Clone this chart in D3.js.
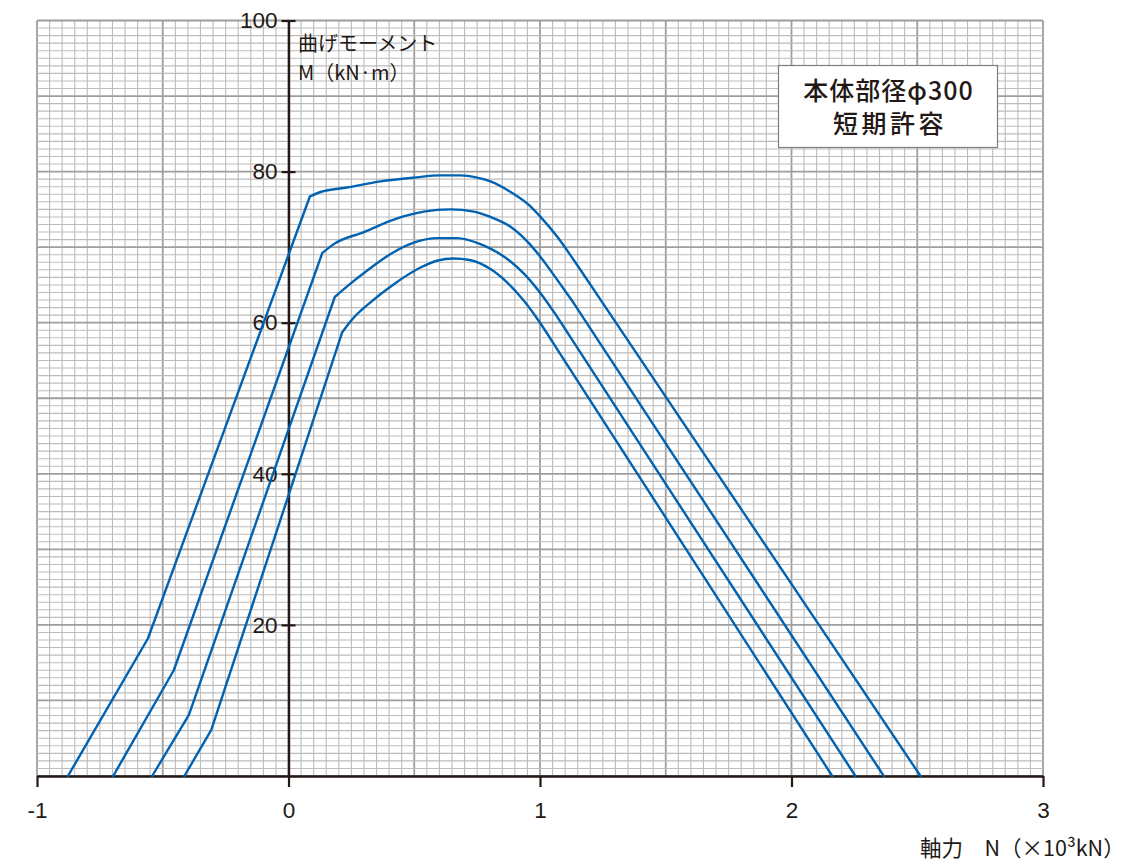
<!DOCTYPE html>
<html lang="ja">
<head>
<meta charset="utf-8">
<script src="https://cdn.jsdelivr.net/npm/d3@7"></script>
<style>
  html, body { margin: 0; padding: 0; background: #ffffff; }
  svg { display: block; }
</style>
</head>
<body>
<svg id="chart" width="1144" height="864"></svg>
<script>
// Axial force N (×10^3 kN) vs. bending moment M (kN·m), four interaction curves.
// Each curve is a list of [N, M] points; the kink lists mark points where the
// curve has a corner (pieces between kinks are drawn smooth).
const seriesA = [
  [-0.877, 0], [-0.559, 18.2], [0.085, 76.7], [0.127, 77.3], [0.233, 77.9],
  [0.366, 78.7], [0.498, 79.2], [0.604, 79.5], [0.684, 79.5], [0.750, 79.2],
  [0.803, 78.7], [0.883, 77.3], [0.962, 75.4], [1.002, 74.0], [1.068, 71.4],
  [1.134, 68.3], [1.201, 65.0], [2.513, 0]
];
const kinksA = [1, 2, 16];

const seriesB = [
  [-0.697, 0], [-0.456, 14.0], [0.134, 69.2], [0.180, 70.4], [0.300, 72.0],
  [0.432, 73.8], [0.538, 74.7], [0.644, 75.0], [0.737, 74.7], [0.803, 74.0],
  [0.883, 72.7], [0.962, 70.3], [1.002, 68.7], [1.068, 65.7], [1.134, 62.6],
  [2.367, 0]
];
const kinksB = [1, 2, 14];

const seriesC = [
  [-0.542, 0], [-0.396, 8.1], [0.184, 63.4], [0.233, 64.8], [0.313, 66.9],
  [0.406, 69.1], [0.498, 70.6], [0.591, 71.2], [0.671, 71.2], [0.763, 70.4],
  [0.803, 69.8], [0.883, 68.1], [0.936, 66.5], [1.002, 63.9], [1.068, 60.8],
  [2.254, 0]
];
const kinksC = [1, 2, 14];

const seriesD = [
  [-0.414, 0], [-0.307, 6.1], [0.213, 58.7], [0.247, 60.2], [0.326, 62.7],
  [0.419, 65.1], [0.525, 67.3], [0.590, 68.2], [0.657, 68.5], [0.720, 68.3],
  [0.803, 67.1], [0.870, 65.3], [0.936, 62.9], [1.002, 59.9], [1.068, 56.5],
  [2.162, 0]
];
const kinksD = [1, 2, 14];

const xTicks = [-1, 0, 1, 2, 3];
const yTicks = [20, 40, 60, 80, 100];
const titleLines = ["本体部径φ300", "短期許容"];
const yLabelLines = ["曲げモーメント", "M（kN·m）"];
const xLabel = "軸力　N（×10³kN）";

// ---- layout ----
const svg = d3.select("#chart");
const ink = "#231815";
const curveColor = "#0062b1";
const latin = "'Liberation Sans', Arial, Helvetica, sans-serif";
const cjk = "'Noto Sans CJK JP', 'Noto Sans', sans-serif";

const x = d3.scaleLinear().domain([-1, 3]).range([37, 1043]);
const y = d3.scaleLinear().domain([0, 100]).range([776, 20.5]);

// ---- graph-paper grid ----
const grid = svg.append("g").attr("class", "grid");
const vSteps = d3.range(0, 81);   // every 0.05 in N
const hSteps = d3.range(0, 101);  // every 1 in M

grid.selectAll("line.v")
  .data(vSteps)
  .join("line")
  .attr("class", "v")
  .attr("x1", i => x(-1 + i * 0.05)).attr("x2", i => x(-1 + i * 0.05))
  .attr("y1", y(0)).attr("y2", y(100))
  .attr("stroke", i => i % 10 === 0 ? "#9e9e9e" : "#bcbcbc")
  .attr("stroke-width", i => i % 10 === 0 ? 1.8 : 1.1);

grid.selectAll("line.h")
  .data(hSteps)
  .join("line")
  .attr("class", "h")
  .attr("x1", x(-1)).attr("x2", x(3))
  .attr("y1", i => y(i)).attr("y2", i => y(i))
  .attr("stroke", i => i % 10 === 0 ? "#9e9e9e" : "#bcbcbc")
  .attr("stroke-width", i => i % 10 === 0 ? 1.8 : 1.1);

// ---- axes ----
const xAxis = svg.append("g")
  .attr("transform", `translate(0,${y(0)})`)
  .call(d3.axisBottom(x).tickValues(xTicks).tickSize(11).tickSizeOuter(0)
    .tickPadding(15).tickFormat(d => String(d)));
xAxis.select(".domain").attr("stroke", ink).attr("stroke-width", 2.4);
xAxis.selectAll(".tick line").attr("stroke", ink).attr("stroke-width", 2.2);
xAxis.selectAll(".tick text")
  .attr("fill", ink).attr("font-family", latin).attr("font-size", 22.5);

const yAxis = svg.append("g")
  .attr("transform", `translate(${x(0)},0)`)
  .call(d3.axisLeft(y).tickValues(yTicks).tickSize(7).tickSizeOuter(0)
    .tickPadding(4).tickFormat(d => String(d)));
yAxis.select(".domain").attr("stroke", ink).attr("stroke-width", 2.4);
yAxis.selectAll(".tick line").attr("x1", 7).attr("stroke", ink).attr("stroke-width", 2.2);
yAxis.selectAll(".tick text")
  .attr("fill", ink).attr("font-family", latin).attr("font-size", 22.5);

// ---- curves ----
const smooth = d3.line()
  .x(d => x(d[0])).y(d => y(d[1]))
  .curve(d3.curveMonotoneX);

function piecewisePath(points, kinks) {
  const cuts = [0, ...kinks, points.length - 1];
  let dStr = "";
  for (let k = 0; k < cuts.length - 1; k++) {
    dStr += smooth(points.slice(cuts[k], cuts[k + 1] + 1));
  }
  return dStr;
}

const curves = [
  { pts: seriesA, kinks: kinksA },
  { pts: seriesB, kinks: kinksB },
  { pts: seriesC, kinks: kinksC },
  { pts: seriesD, kinks: kinksD }
];

svg.append("g").attr("class", "curves")
  .selectAll("path")
  .data(curves)
  .join("path")
  .attr("d", c => piecewisePath(c.pts, c.kinks))
  .attr("fill", "none")
  .attr("stroke", curveColor)
  .attr("stroke-width", 2.4)
  .attr("stroke-linejoin", "round")
  .attr("stroke-linecap", "round");

// ---- axis titles ----
svg.append("g")
  .selectAll("text")
  .data(yLabelLines)
  .join("text")
  .attr("x", 298)
  .attr("y", (d, i) => 51 + i * 29)
  .attr("fill", ink)
  .attr("font-family", cjk)
  .attr("font-size", 20)
  .text(d => d);

svg.append("text")
  .attr("x", 920)
  .attr("y", 856)
  .attr("fill", ink)
  .attr("font-family", cjk)
  .attr("font-size", 21.5)
  .text(xLabel);

// ---- title box ----
const box = svg.append("g");
box.append("rect")
  .attr("x", 778.5).attr("y", 65.5)
  .attr("width", 219).attr("height", 82)
  .attr("fill", "#ffffff")
  .attr("stroke", "#7d7d7d")
  .attr("stroke-width", 1.2);
box.selectAll("text")
  .data(titleLines)
  .join("text")
  .attr("x", (d, i) => i === 0 ? 888.5 : 890)
  .attr("y", (d, i) => 100 + i * 33)
  .attr("text-anchor", "middle")
  .attr("fill", ink)
  .attr("font-family", cjk)
  .attr("font-weight", 500)
  .attr("font-size", 25)
  .attr("letter-spacing", (d, i) => i === 0 ? 1 : 3.5)
  .text(d => d);
</script>
</body>
</html>
